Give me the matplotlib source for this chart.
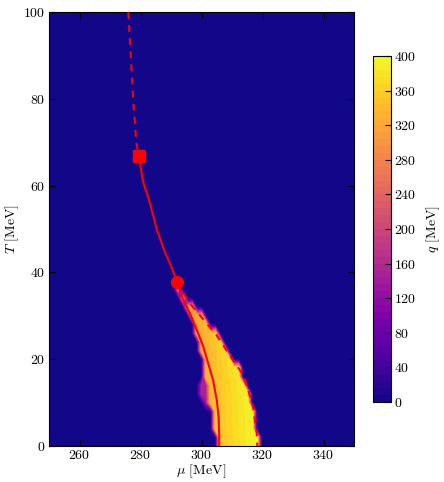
import matplotlib
matplotlib.use('Agg')
import matplotlib.pyplot as plt
import numpy as np

plt.rcParams['font.family'] = 'serif'
plt.rcParams['font.serif'] = ['cmr10']
plt.rcParams['mathtext.fontset'] = 'cm'
plt.rcParams['axes.formatter.use_mathtext'] = True

#%% ----------------------------- data --------------------------------------------------
# inhomogeneous region, one row every 2 MeV in T
T_rows   = [0, 2, 4, 6, 8, 10, 12, 14, 16, 18, 20, 22, 24, 26, 28, 30, 32, 34, 36]
mu_left  = [305.0, 304.8, 304.5, 304.2, 303.6, 303.0, 302.6, 302.2, 301.4, 300.8,
            300.2, 299.8, 298.8, 298.0, 297.0, 295.8, 294.6, 293.4, 292.3]
mu_right = [318.4, 318.2, 318.0, 317.5, 317.0, 316.3, 315.5, 314.6, 313.5, 312.2,
            310.6, 308.9, 307.0, 305.0, 302.6, 300.0, 297.4, 295.2, 293.4]
q_left   = [345, 345, 345, 345, 340, 340, 335, 335, 330, 330,
            325, 320, 315, 310, 305, 300, 290, 270, 230]
q_right  = [398, 398, 398, 396, 396, 394, 392, 390, 388, 385,
            380, 375, 370, 360, 350, 335, 320, 300, 260]
# purple shoulder on the left side of the region
sh_T    = [10, 12, 14, 16]
sh_left = [300.2, 299.9, 299.9, 300.2]
sh_q    = [130, 150, 150, 130]

# first order line (solid), T vs mu
first_T  = [66.8, 61.0, 56.7, 50.0, 45.0, 41.5, 37.8, 34.0, 30.6, 27.0, 22.9,
            19.0, 15.2, 10.6, 6.8, 3.0, 0.0]
first_mu = [279.5, 280.8, 282.8, 285.3, 287.8, 290.0, 292.0, 293.8, 296.2, 298.3, 300.6,
            302.2, 303.8, 305.0, 305.6, 305.8, 305.8]
# crossover (dashed, top)
cross_T  = [100.0, 90.0, 80.0, 70.0, 66.8]
cross_mu = [276.0, 276.8, 277.6, 278.6, 279.5]
# right boundary (dashed)
right_T  = [37.8, 33.0, 29.0, 25.5, 21.7, 16.0, 9.0, 3.0, 0.0]
right_mu = [292.0, 296.0, 300.8, 305.0, 308.5, 314.0, 316.9, 318.1, 318.3]

# special points
tcp = (279.5, 66.8)   # square
cep = (292.0, 37.8)   # circle

#%% ----------------------------- field on a coarse grid -----------------------------
mu_grid = np.linspace(250, 350, 67)
T_grid = np.linspace(0, 100, 51)
q = np.zeros((len(T_grid), len(mu_grid)))
for t, l, r, ql, qr in zip(T_rows, mu_left, mu_right, q_left, q_right):
    i = int(round(t / 2))
    m = (mu_grid >= l) & (mu_grid <= r)
    q[i, m] = np.interp(mu_grid[m], [l, r], [ql, qr])
for t, l, qs in zip(sh_T, sh_left, sh_q):
    i = int(round(t / 2))
    m = (mu_grid >= l) & (q[i] == 0) & (mu_grid < 305)
    q[i, m] = qs

#%% ----------------------------- plot -----------------------------
fig = plt.figure(figsize=(4.44, 4.82), dpi=100)
ax = fig.add_axes([0.1104, 0.0747, 0.6869, 0.9004])
cax = fig.add_axes([0.8408, 0.166, 0.0392, 0.7178])

cs = ax.contourf(mu_grid, T_grid, q, levels=np.linspace(0, 400, 51), cmap='plasma')
ax.set_facecolor(plt.cm.plasma(0.0))

ax.plot(first_mu, first_T, color='red', lw=1.5, zorder=3)
ax.plot(cross_mu, cross_T, color='red', lw=1.5, dashes=(3.3, 3.0), zorder=3)
ax.plot(right_mu, right_T, color='red', lw=1.5, dashes=(3.3, 3.0), zorder=3)
ax.plot(*tcp, marker='s', color='red', markersize=8.5, zorder=4)
ax.plot(*cep, marker='o', color='red', markersize=8.5, zorder=4)

ax.set_xlim(250, 350)
ax.set_ylim(0, 100)
ax.set_xticks(np.arange(260, 350, 20))
ax.set_yticks(np.arange(0, 101, 20))
ax.tick_params(direction='in', top=True, right=True, labelsize=10, length=4, pad=2.5)
ax.set_xlabel(r'$\mu$ [MeV]', fontsize=10, labelpad=0)
ax.set_ylabel(r'$T$ [MeV]', fontsize=10, labelpad=2)

cb = fig.colorbar(cs, cax=cax, ticks=np.arange(0, 401, 40))
cb.ax.tick_params(labelsize=10, direction='in', length=4, pad=2.5)
cb.set_label(r'$q$ [MeV]', fontsize=10, labelpad=6)

fig.savefig('out.png', dpi=100)
